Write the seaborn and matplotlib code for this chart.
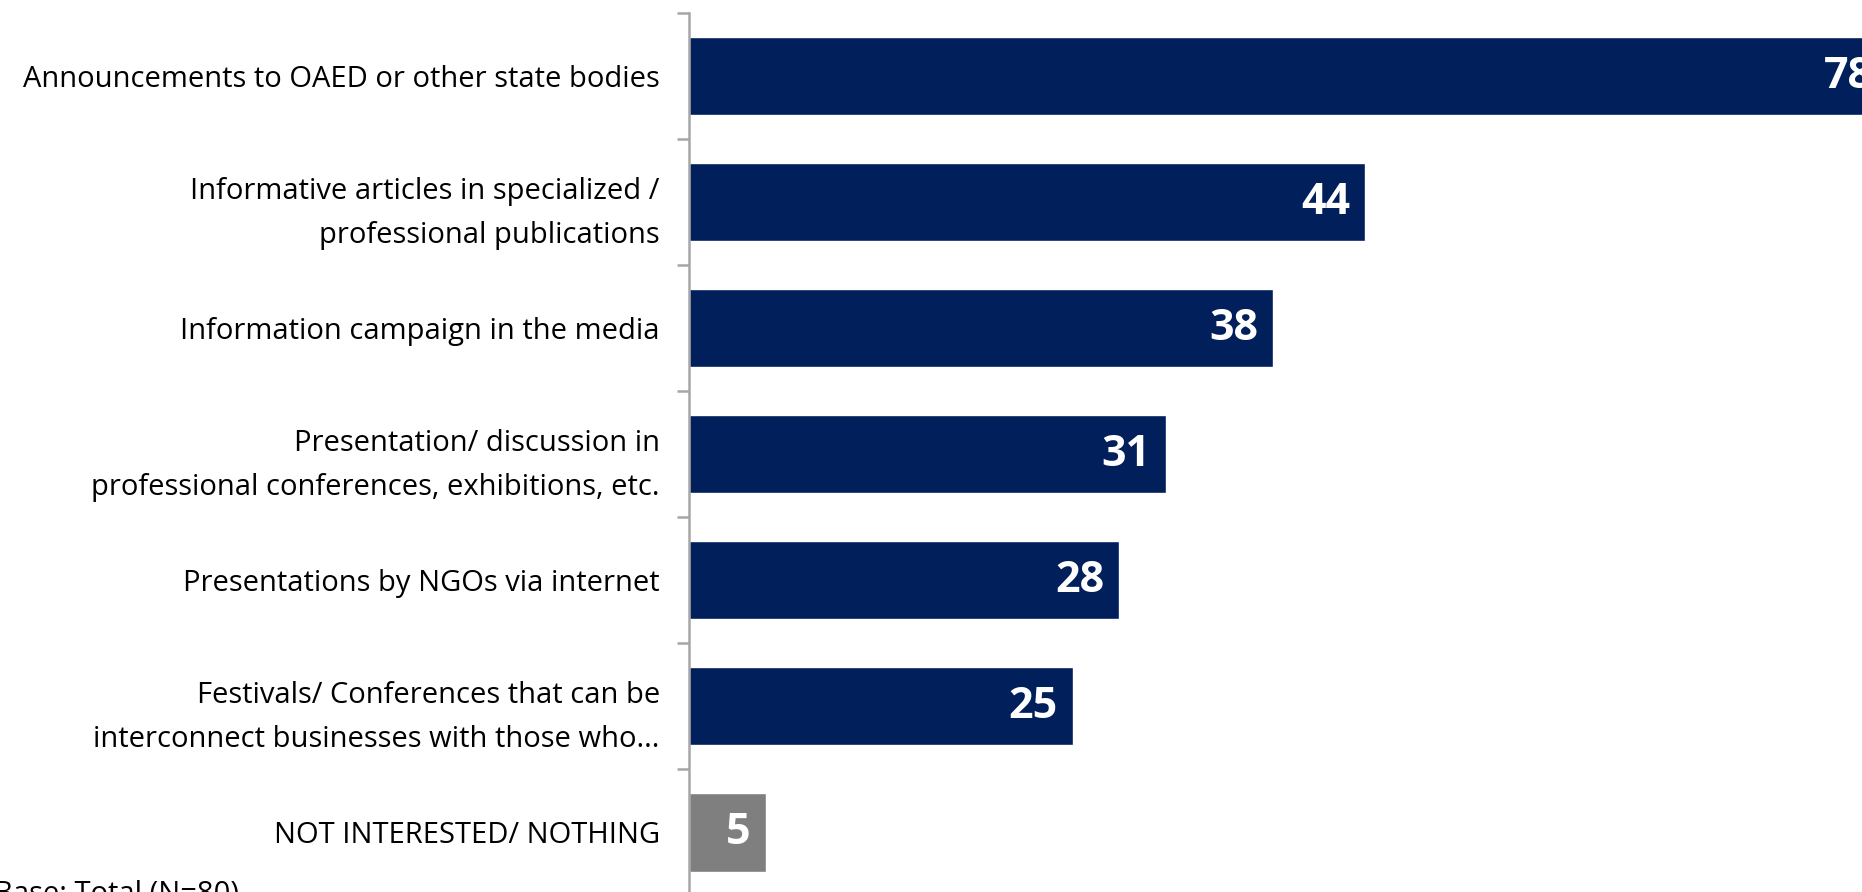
import matplotlib
matplotlib.use("Agg")
import matplotlib.pyplot as plt
import seaborn as sns
import pandas as pd
import numpy as np

categories = [
    "Announcements to OAED or other state bodies",
    "Informative articles in specialized /\nprofessional publications",
    "Information campaign in the media",
    "Presentation/ discussion in\nprofessional conferences, exhibitions, etc.",
    "Presentations by NGOs via internet",
    "Festivals/ Conferences that can be\ninterconnect businesses with those who...",
    "NOT INTERESTED/ NOTHING",
]
values = [78, 44, 38, 31, 28, 25, 5]
groups = ["main", "main", "main", "main", "main", "main", "none"]
palette = {"main": "#001F5B", "none": "#7F7F7F"}

sns.set_theme(style="white")
plt.rcParams['font.family'] = ['Open Sans', 'DejaVu Sans']

df = pd.DataFrame({"cat": categories, "val": values, "grp": groups})

W, H = 1862, 892
fig = plt.figure(figsize=(W / 100, H / 100), dpi=100)
ax_left = 689 / W
ax_top = 13 / H
ax_bottom = 895.5 / H
ax = fig.add_axes([ax_left, 1 - ax_bottom, 1 - ax_left, ax_bottom - ax_top])

sns.barplot(data=df, y="cat", x="val", hue="grp", palette=palette, orient="h",
            width=0.62, dodge=False, legend=False, ax=ax, saturation=1)

ax.set_xlim(0, 76.3)
ax.set_ylim(len(categories) - 0.5, -0.5)
ax.set_xlabel("")
ax.set_ylabel("")
ax.set_xticks([])
for s in ["top", "right", "bottom"]:
    ax.spines[s].set_visible(False)
ax.spines["left"].set_color("#A6A6A6")
ax.spines["left"].set_linewidth(1.8)

ax.set_yticks(range(len(categories)))
ax.set_yticklabels(categories, fontsize=21, color="#000000", linespacing=1.68)
ax.tick_params(axis="y", which="major", length=0, pad=21)
ax.set_yticks(np.arange(-0.5, len(categories), 1), minor=True)
ax.tick_params(axis="y", which="minor", length=8.6, width=1.8, color="#A6A6A6", left=True)
for lbl in ax.get_yticklabels():
    lbl.set_multialignment("right")

for i, v in enumerate(values):
    t = ax.text(v - 1.0, i, str(v), ha="right", va="center", color="white",
                fontsize=31, fontweight="bold")
    t.set_clip_on(False)

fig.text(-0.003, 1 - 880 / H, "Base: Total (N=80)", ha="left", va="top",
         fontsize=21, color="#000000")

fig.savefig("out.png", dpi=100)
